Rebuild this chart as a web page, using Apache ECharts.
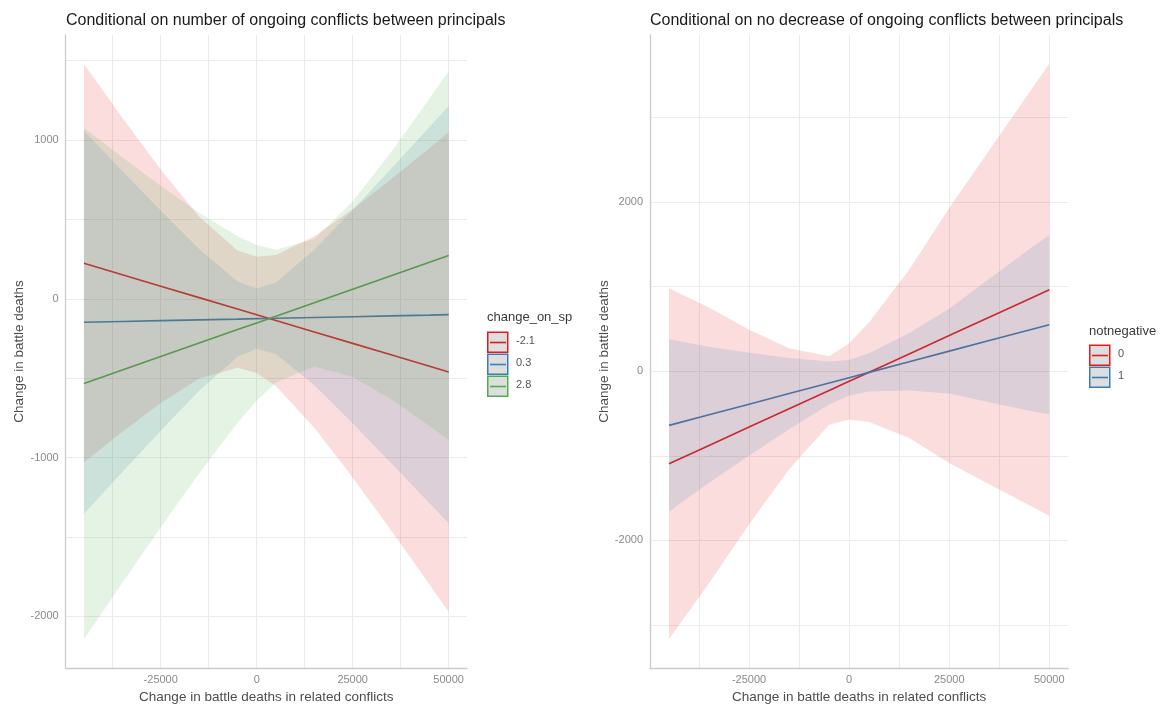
<!DOCTYPE html>
<html>
<head>
<meta charset="utf-8">
<script src="https://cdn.jsdelivr.net/npm/echarts@6/dist/echarts.min.js"></script>
<style>
html,body{margin:0;padding:0;background:#fff;}
#chart{width:1165px;height:709px;}
</style>
</head>
<body>
<div id="chart"></div>
<script>
// ---------- data ----------
const xs = [-45000, -35000, -25000, -15000, -5000, 0, 5000, 15000, 25000, 35000, 45000, 50000];

// Left panel: change_on_sp groups
const spLabels = ['-2.1', '0.3', '2.8'];
const spRedFit = [223, 151, 79, 7, -65, -101, -137, -209, -281, -353, -425, -461];
const spRedHi  = [1478, 1140, 814, 516, 304, 265, 276, 394, 564, 752, 949, 1049];
const spRedLo  = [-1032, -838, -656, -502, -434, -467, -550, -812, -1126, -1458, -1799, -1971];
const spBlueFit = [-148, -143, -138, -133, -128, -125, -123, -118, -113, -108, -103, -100];
const spBlueHi  = [1058, 805, 555, 314, 109, 65, 102, 309, 559, 819, 1082, 1214];
const spBlueLo  = [-1354, -1091, -831, -580, -365, -315, -348, -545, -785, -1035, -1288, -1414];
const spGreenFit = [-534, -449, -364, -279, -194, -152, -110, -25, 60, 145, 230, 272];
const spGreenHi  = [1077, 891, 711, 541, 393, 338, 308, 376, 612, 923, 1261, 1434];
const spGreenLo  = [-2145, -1789, -1439, -1099, -781, -642, -528, -426, -492, -633, -801, -890];

// Right panel: notnegative groups
const nnLabels = ['0', '1'];
const nnRedFit = [-1093, -877, -660, -444, -227, -119, -11, 205, 422, 638, 855, 963];
const nnRedHi  = [981, 753, 490, 271, 178, 331, 579, 1200, 1929, 2613, 3295, 3636];
const nnRedLo  = [-3167, -2507, -1810, -1159, -632, -569, -601, -790, -1085, -1337, -1585, -1710];
const nnBlueFit = [-640, -515, -389, -264, -139, -76, -13, 112, 238, 363, 489, 551];
const nnBlueHi  = [377, 289, 219, 157, 116, 134, 212, 452, 738, 1093, 1444, 1609];
const nnBlueLo  = [-1657, -1319, -997, -685, -394, -286, -238, -228, -262, -367, -466, -507];

// ticks
const xTickLabels = [-25000, 0, 25000, 50000];
const xGrid = [-37500, -25000, -12500, 0, 12500, 25000, 37500, 50000];
const yLeftLabels = [-2000, -1000, 0, 1000];
const yLeftGrid = [-2000, -1500, -1000, -500, 0, 500, 1000, 1500];
const yRightLabels = [-2000, 0, 2000];
const yRightGrid = [-3000, -2000, -1000, 0, 1000, 2000, 3000];

// ---------- styling ----------
const RED = '#E41A1C', BLUE = '#377EB8', GREEN = '#4DAF4A';
const FONT = '"Liberation Sans", Arial, Helvetica, sans-serif';
const GRID_COLOR = '#ebebeb';

function xAxisCfg(gridIndex) {
  return {
    type: 'value', gridIndex: gridIndex, min: -49750, max: 54750,
    name: 'Change in battle deaths in related conflicts',
    nameLocation: 'middle', nameGap: 19,
    nameTextStyle: {fontFamily: FONT, fontSize: 13.5, color: '#4d4d4d'},
    axisLine: {show: true, onZero: false, lineStyle: {color: '#cccccc', width: 1.3}},
    axisTick: {show: false, customValues: xGrid},
    axisLabel: {customValues: xTickLabels, formatter: v => String(v), margin: 6,
                fontFamily: FONT, fontSize: 11, color: '#8a8a8a'},
    splitLine: {show: true, lineStyle: {color: GRID_COLOR, width: 1}}
  };
}
function yAxisCfg(gridIndex, min, max, labels, grid) {
  return {
    type: 'value', gridIndex: gridIndex, min: min, max: max,
    name: 'Change in battle deaths',
    nameLocation: 'middle', nameGap: 39, nameRotate: 90,
    nameTextStyle: {fontFamily: FONT, fontSize: 13.5, color: '#4d4d4d'},
    axisLine: {show: true, onZero: false, lineStyle: {color: '#cccccc', width: 1.3}},
    axisTick: {show: false, customValues: grid},
    axisLabel: {customValues: labels, formatter: v => String(v), margin: 7,
                fontFamily: FONT, fontSize: 11, color: '#8a8a8a'},
    splitLine: {show: true, lineStyle: {color: GRID_COLOR, width: 1}}
  };
}
function lineSeries(fit, color, axisIdx) {
  return {
    type: 'line', xAxisIndex: axisIdx, yAxisIndex: axisIdx,
    data: xs.map((x, i) => [x, fit[i]]),
    showSymbol: false, silent: true, z: 2,
    lineStyle: {color: color, width: 1.6}, itemStyle: {color: color}
  };
}
function hexToRgba(hex, a) {
  const n = parseInt(hex.slice(1), 16);
  return 'rgba(' + ((n >> 16) & 255) + ',' + ((n >> 8) & 255) + ',' + (n & 255) + ',' + a + ')';
}
function bandSeries(lo, hi, color, axisIdx) {
  return {
    type: 'custom', xAxisIndex: axisIdx, yAxisIndex: axisIdx, silent: true, z: 3, clip: true,
    data: xs.map((x, i) => [x, lo[i], hi[i]]),
    encode: {x: 0, y: [1, 2]},
    renderItem: function (params, api) {
      if (params.dataIndex !== 0) return null;
      const pts = [];
      for (let i = 0; i < xs.length; i++) pts.push(api.coord([xs[i], hi[i]]));
      for (let i = xs.length - 1; i >= 0; i--) pts.push(api.coord([xs[i], lo[i]]));
      return {type: 'polygon', shape: {points: pts}, style: {fill: hexToRgba(color, 0.15)}};
    }
  };
}
function legendGraphics(x, titleY, firstY, title, labels, colors) {
  const els = [{
    type: 'text', left: x, top: titleY - 8,
    style: {text: title, fontFamily: FONT, fontSize: 13, fill: '#3a3a3a'}
  }];
  labels.forEach((lab, i) => {
    const y = firstY + i * 22;
    els.push({type: 'rect', shape: {x: x + 0.75, y: y + 0.75, width: 20, height: 20},
      style: {fill: '#dedede', stroke: colors[i], lineWidth: 1.5}});
    els.push({type: 'line', shape: {x1: x + 3, y1: y + 11, x2: x + 19, y2: y + 11},
      style: {stroke: colors[i], lineWidth: 1.6}});
    els.push({type: 'text', left: x + 29, top: y + 4,
      style: {text: lab, fontFamily: FONT, fontSize: 11, fill: '#555555'}});
  });
  return els;
}

const chart = echarts.init(document.getElementById('chart'), null, {renderer: 'canvas'});
chart.setOption({
  animation: false,
  backgroundColor: '#ffffff',
  title: [
    {text: 'Conditional on number of ongoing conflicts between principals', left: 61, top: 8,
     textStyle: {fontFamily: FONT, fontSize: 16, fontWeight: 'normal', color: '#1a1a1a'}},
    {text: 'Conditional on no decrease of ongoing conflicts between principals', left: 645, top: 8,
     textStyle: {fontFamily: FONT, fontSize: 16, fontWeight: 'normal', color: '#1a1a1a'}}
  ],
  grid: [
    {left: 65.7, top: 35, width: 401.2, height: 638},
    {left: 650, top: 35, width: 418.3, height: 638}
  ],
  xAxis: [xAxisCfg(0), xAxisCfg(1)],
  yAxis: [
    yAxisCfg(0, -2326, 1661, yLeftLabels, yLeftGrid),
    yAxisCfg(1, -3510, 3976, yRightLabels, yRightGrid)
  ],
  series: [
    lineSeries(spRedFit, RED, 0),
    lineSeries(spBlueFit, BLUE, 0),
    lineSeries(spGreenFit, GREEN, 0),
    bandSeries(spRedLo, spRedHi, RED, 0),
    bandSeries(spBlueLo, spBlueHi, BLUE, 0),
    bandSeries(spGreenLo, spGreenHi, GREEN, 0),
    lineSeries(nnRedFit, RED, 1),
    lineSeries(nnBlueFit, BLUE, 1),
    bandSeries(nnRedLo, nnRedHi, RED, 1),
    bandSeries(nnBlueLo, nnBlueHi, BLUE, 1)
  ],
  graphic: legendGraphics(487, 319, 331.5, 'change_on_sp', spLabels, [RED, BLUE, GREEN])
    .concat(legendGraphics(1089, 333, 344.5, 'notnegative', nnLabels, [RED, BLUE]))
});
</script>
</body>
</html>
